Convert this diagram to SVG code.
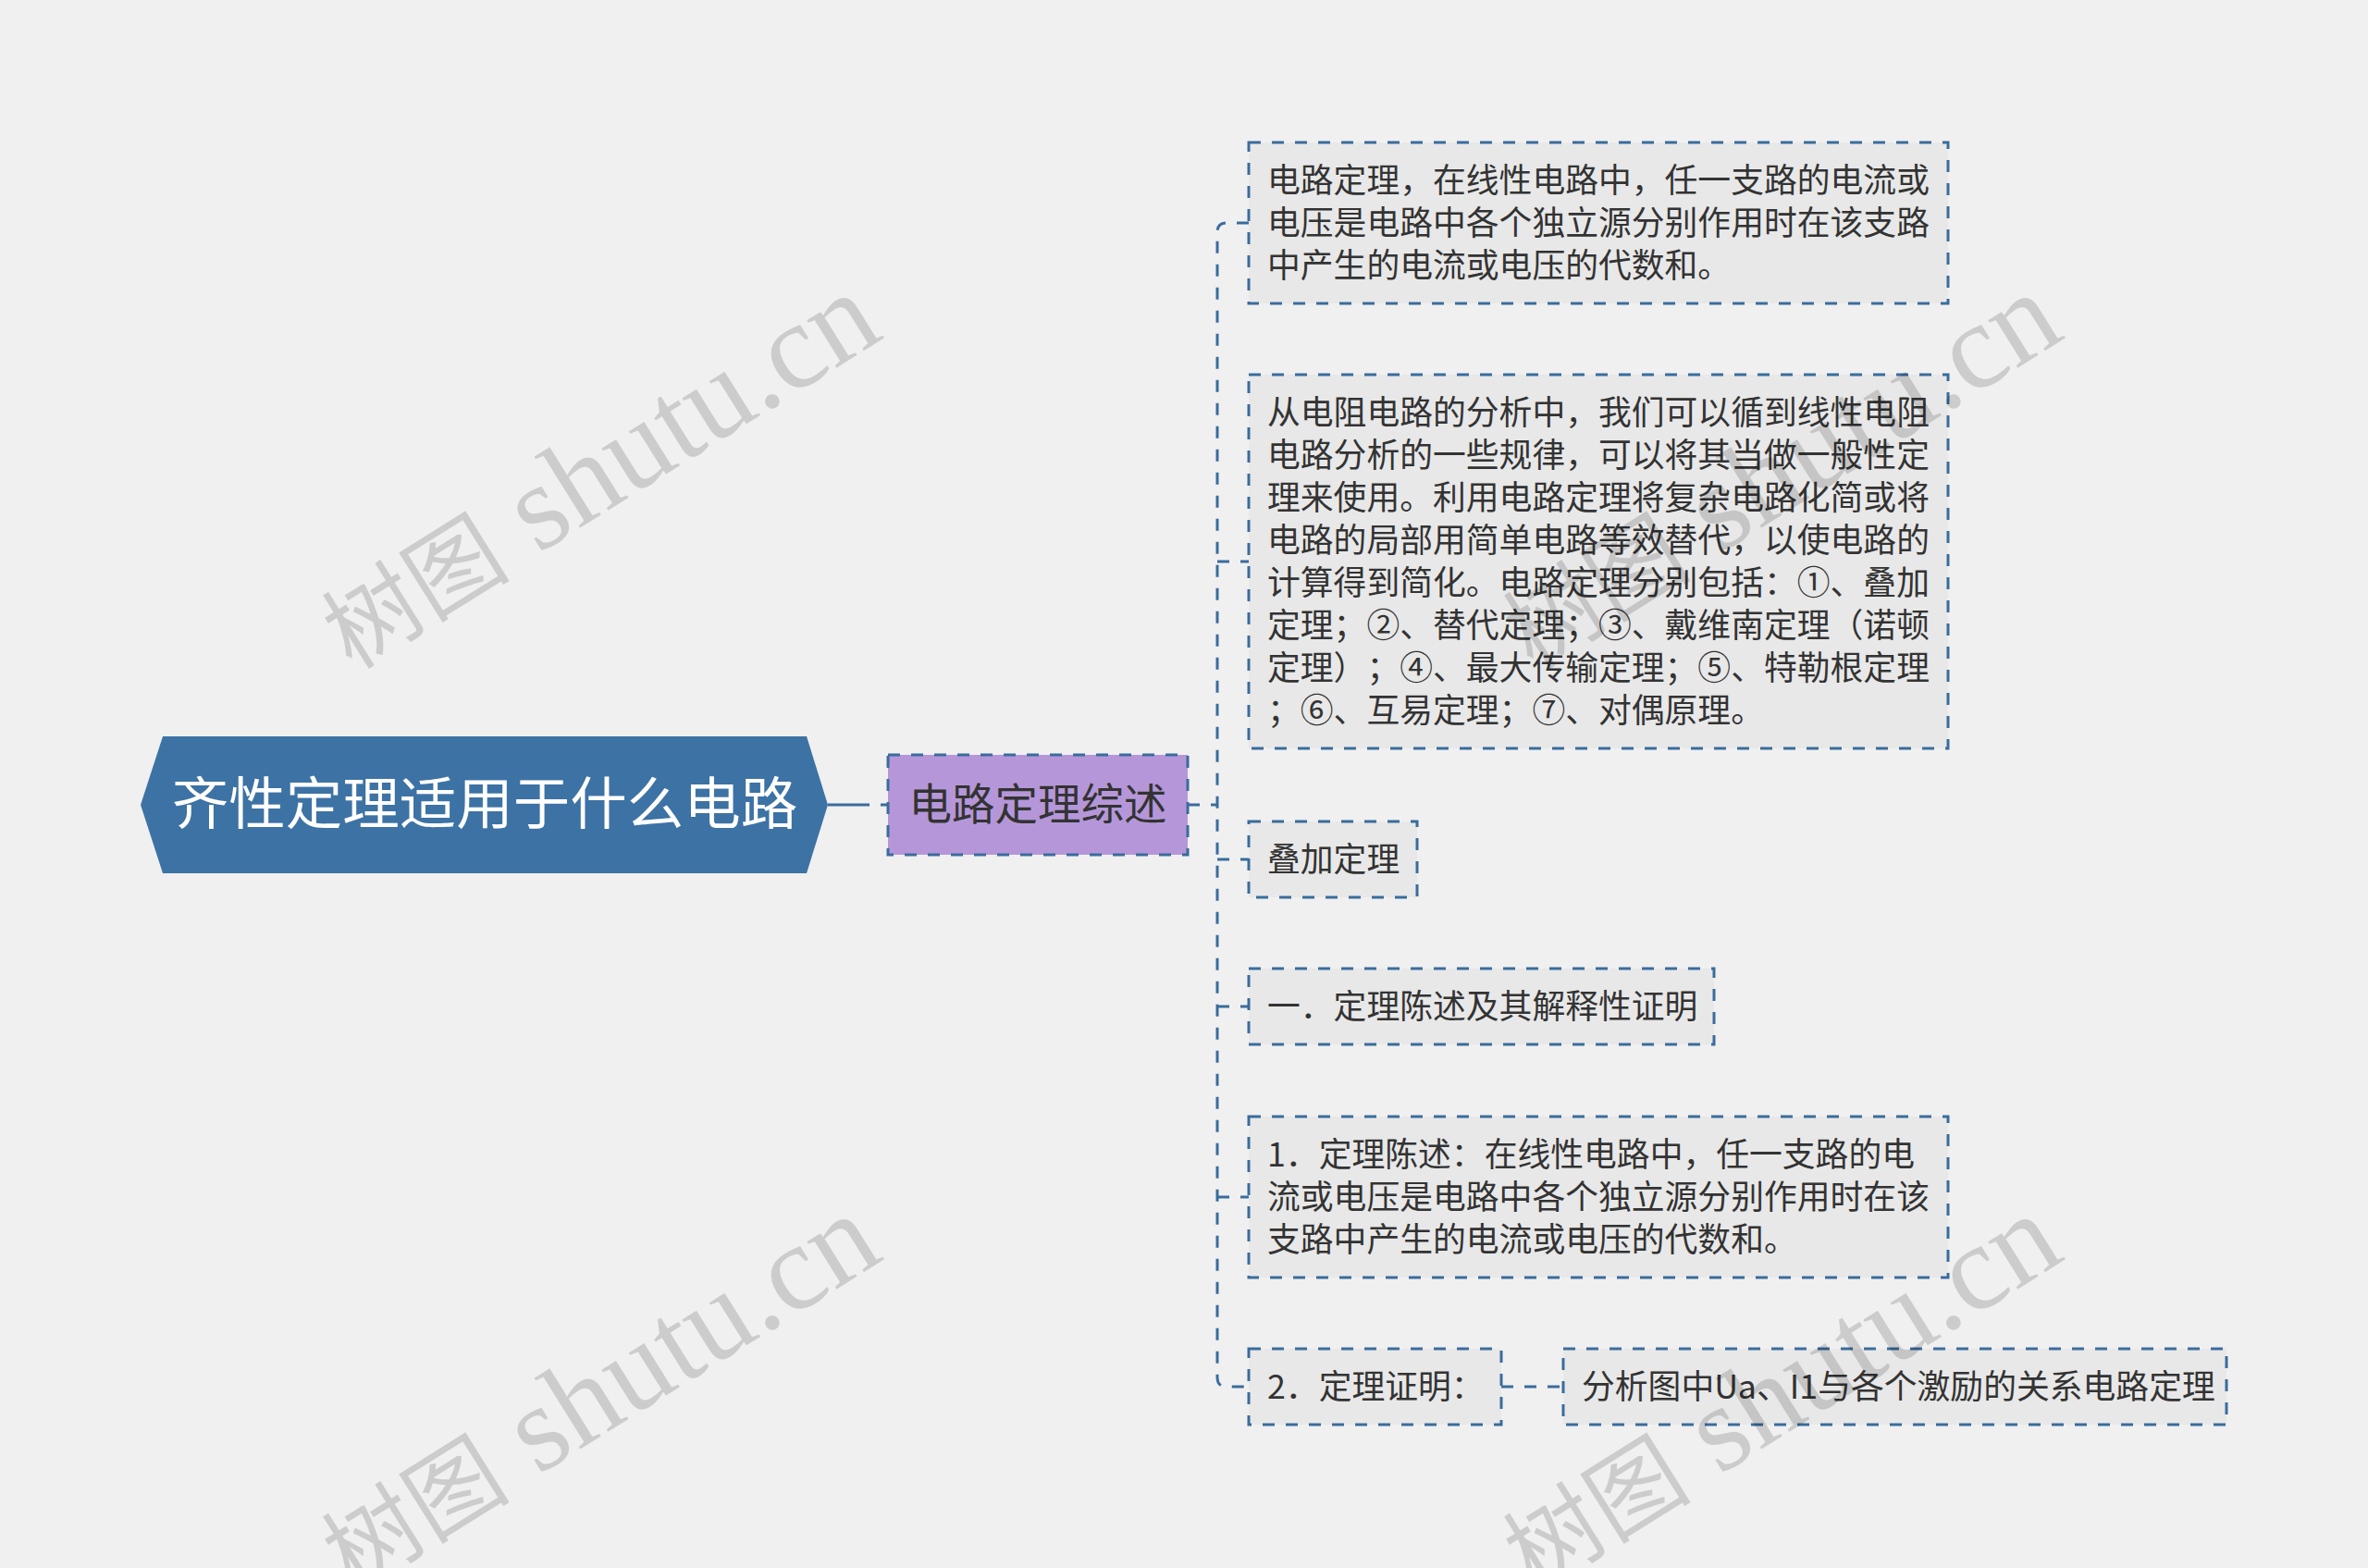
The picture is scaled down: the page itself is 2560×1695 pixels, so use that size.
<svg xmlns="http://www.w3.org/2000/svg" width="2560" height="1695" viewBox="0 0 2560 1695">
<style>
.bg{fill:#f0f0f0}
text{text-spacing-trim:space-all}
.t{font-family:"Noto Sans CJK SC","Noto Sans",sans-serif;fill:#333333;font-size:35.8px}
.box{fill:#e8e8e8;stroke:#3a6c9c;stroke-width:3;stroke-dasharray:13 12}
.con{fill:none;stroke:#3a6c9c;stroke-width:3;stroke-dasharray:13 12}
.wm{font-family:"Liberation Serif","Noto Sans CJK SC",serif;font-size:132px;fill:#000000;fill-opacity:0.15}
.wmc{font-size:102px}
</style>
<rect class="bg" x="0" y="0" width="2560" height="1695"/>
<g id="connectors">
<path fill="none" stroke="#3a6c9c" stroke-width="3" stroke-dasharray="45 12 8 100" d="M895,870 H960"/>
<path class="con" d="M1284,870 H1316"/>
<path class="con" d="M1350,241 H1326 Q1316,241 1316,251 V1489 Q1316,1499 1326,1499 H1350"/>
<path class="con" d="M1316,607 H1350"/>
<path class="con" d="M1316,929 H1350"/>
<path class="con" d="M1316,1088 H1350"/>
<path class="con" d="M1316,1294 H1350"/>
<path class="con" d="M1623,1499 H1690"/>
</g>
<g id="root">
<polygon points="152,870 176,796 872,796 895,870 872,944 176,944" fill="#3d72a4"/>
<text x="524" y="891" text-anchor="middle" style="font-family:'Noto Sans CJK SC','Noto Sans',sans-serif;font-size:61.5px;fill:#ffffff">齐性定理适用于什么电路</text>
</g>
<g id="child">
<rect x="960" y="816" width="324" height="108" fill="#b597d9" stroke="#3a6c9c" stroke-width="3" stroke-dasharray="13 12"/>
<text x="1122" y="886" text-anchor="middle" style="font-family:'Noto Sans CJK SC','Noto Sans',sans-serif;font-size:46.5px;fill:#333333">电路定理综述</text>
</g>
<g id="n1">
<rect class="box" x="1350" y="154" width="756" height="174"/>
<text class="t" x="1370" y="208">电路定理，在线性电路中，任一支路的电流或</text>
<text class="t" x="1370" y="254">电压是电路中各个独立源分别作用时在该支路</text>
<text class="t" x="1370" y="300">中产生的电流或电压的代数和。</text>
</g>
<g id="n2">
<rect class="box" x="1350" y="405" width="756" height="404"/>
<text class="t" x="1370" y="459">从电阻电路的分析中，我们可以循到线性电阻</text>
<text class="t" x="1370" y="505">电路分析的一些规律，可以将其当做一般性定</text>
<text class="t" x="1370" y="551">理来使用。利用电路定理将复杂电路化简或将</text>
<text class="t" x="1370" y="597">电路的局部用简单电路等效替代，以使电路的</text>
<text class="t" x="1370" y="643">计算得到简化。电路定理分别包括：①、叠加</text>
<text class="t" x="1370" y="689">定理；②、替代定理；③、戴维南定理（诺顿</text>
<text class="t" x="1370" y="735">定理）；④、最大传输定理；⑤、特勒根定理</text>
<text class="t" x="1370" y="781">；⑥、互易定理；⑦、对偶原理。</text>
</g>
<g id="n3">
<rect class="box" x="1350" y="888" width="182" height="82"/>
<text class="t" x="1370" y="942">叠加定理</text>
</g>
<g id="n4">
<rect class="box" x="1350" y="1047" width="503" height="82"/>
<text class="t" x="1370" y="1101">一．定理陈述及其解释性证明</text>
</g>
<g id="n5">
<rect class="box" x="1350" y="1207" width="756" height="174"/>
<text class="t" x="1370" y="1261">1．定理陈述：在线性电路中，任一支路的电</text>
<text class="t" x="1370" y="1307">流或电压是电路中各个独立源分别作用时在该</text>
<text class="t" x="1370" y="1353">支路中产生的电流或电压的代数和。</text>
</g>
<g id="n6">
<rect class="box" x="1350" y="1458" width="273" height="82"/>
<text class="t" x="1370" y="1512">2．定理证明：</text>
</g>
<g id="n7">
<rect class="box" x="1690" y="1458" width="717" height="82"/>
<text class="t" x="1710" y="1512">分析图中Ua、I1与各个激励的关系电路定理</text>
</g>
<g id="watermarks">
<text class="wm" x="650" y="550" text-anchor="middle" transform="rotate(-32 650 514)"><tspan class="wmc">树图</tspan> shutu.cn</text>
<text class="wm" x="650" y="1546" text-anchor="middle" transform="rotate(-32 650 1510)"><tspan class="wmc">树图</tspan> shutu.cn</text>
<text class="wm" x="1927" y="550" text-anchor="middle" transform="rotate(-32 1927 514)"><tspan class="wmc">树图</tspan> shutu.cn</text>
<text class="wm" x="1927" y="1546" text-anchor="middle" transform="rotate(-32 1927 1510)"><tspan class="wmc">树图</tspan> shutu.cn</text>
</g>
</svg>
